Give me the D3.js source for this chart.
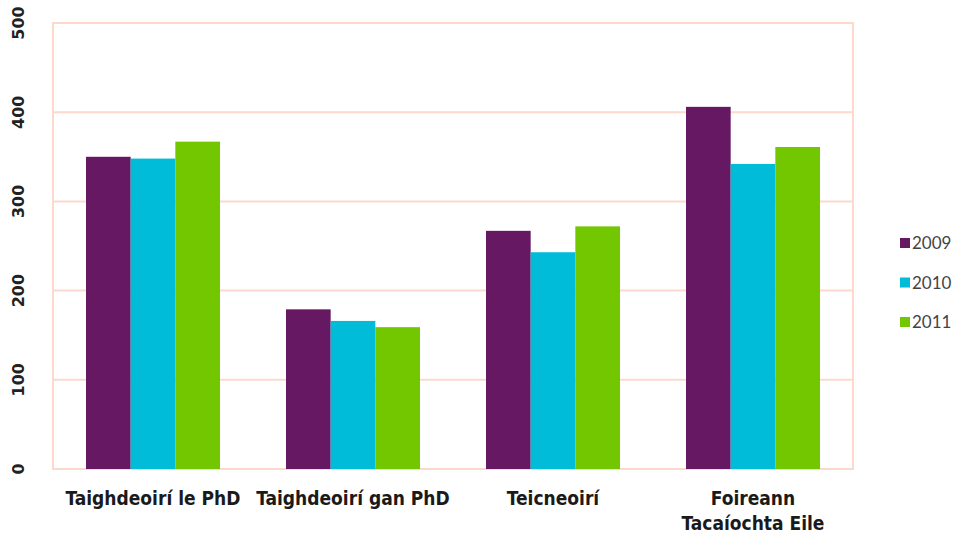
<!DOCTYPE html>
<html><head><meta charset="utf-8">
<script src="https://cdn.jsdelivr.net/npm/d3@7"></script>
<style>body{margin:0;background:#fff}</style>
</head><body>
<svg id="c" width="955" height="533"></svg>
<script>
const categories = [["Taighdeoirí le PhD"], ["Taighdeoirí gan PhD"], ["Teicneoirí"], ["Foireann", "Tacaíochta Eile"]];
const seriesNames = ["2009", "2010", "2011"];
const values2009 = [350, 179, 267, 406];
const values2010 = [348, 166, 243, 342];
const values2011 = [367, 159, 272, 361];
const yTicks = [0, 100, 200, 300, 400, 500];
const colors = ["#661862", "#00BCD8", "#72C700"];

const series = [values2009, values2010, values2011];
const svg = d3.select("#c");
const m = {l: 53, r: 853, t: 23, b: 469};
const x = d3.scaleBand().domain(d3.range(categories.length)).range([m.l, m.r]).paddingInner(0.33).paddingOuter(0.165);
const x1 = d3.scaleBand().domain(d3.range(seriesNames.length)).range([0, x.bandwidth()]);
const y = d3.scaleLinear().domain([0, 500]).range([m.b, m.t]);
const grid = "#FCD9CC";

svg.append("g").selectAll("line").data(yTicks).join("line")
  .attr("x1", m.l).attr("x2", m.r).attr("y1", d => y(d)).attr("y2", d => y(d))
  .attr("stroke", grid).attr("stroke-width", 2);
svg.append("rect").attr("x", m.l).attr("y", m.t).attr("width", m.r - m.l).attr("height", m.b - m.t)
  .attr("fill", "none").attr("stroke", grid).attr("stroke-width", 2);

const g = svg.append("g");
series.forEach((vals, si) => {
  g.selectAll(null).data(vals).join("rect")
    .attr("x", (d, i) => x(i) + x1(si))
    .attr("y", d => y(d))
    .attr("width", x1.bandwidth())
    .attr("height", d => y(0) - y(d))
    .attr("fill", colors[si]);
});

// y labels rotated
svg.append("g").selectAll("text").data(yTicks).join("text")
  .attr("transform", d => `translate(18,${y(d)}) rotate(-90)`)
  .attr("text-anchor", "middle")
  .attr("dy", "0.35em")
  .attr("font-family", "DejaVu Sans")
  .attr("font-weight", "bold")
  .attr("font-size", 16)
  .attr("fill", "#222")
  .text(d => d);

// x labels
const xl = svg.append("g").selectAll("text").data(categories).join("text")
  .attr("x", (d, i) => x(i) + x.bandwidth() / 2)
  .attr("y", 505)
  .attr("text-anchor", "middle")
  .attr("font-family", "DejaVu Sans Condensed")
  .attr("font-weight", "bold")
  .attr("font-size", 19)
  .attr("fill", "#1a1a1a");
xl.each(function(d, i) {
  d3.select(this).selectAll("tspan").data(d).join("tspan")
    .attr("x", x(i) + x.bandwidth() / 2)
    .attr("dy", (t, j) => j === 0 ? 0 : 25)
    .text(t => t);
});

// legend
const lg = svg.append("g").selectAll("g").data(seriesNames).join("g")
  .attr("transform", (d, i) => `translate(900,${243 + i * 39.5})`);
lg.append("rect").attr("x", 0).attr("y", -5).attr("width", 10).attr("height", 10).attr("fill", (d, i) => colors[i]);
lg.append("text").attr("x", 12).attr("dy", "0.36em").attr("font-family", "Lato").attr("font-size", 17).attr("fill", "#444").text(d => d);
</script>
</body></html>
